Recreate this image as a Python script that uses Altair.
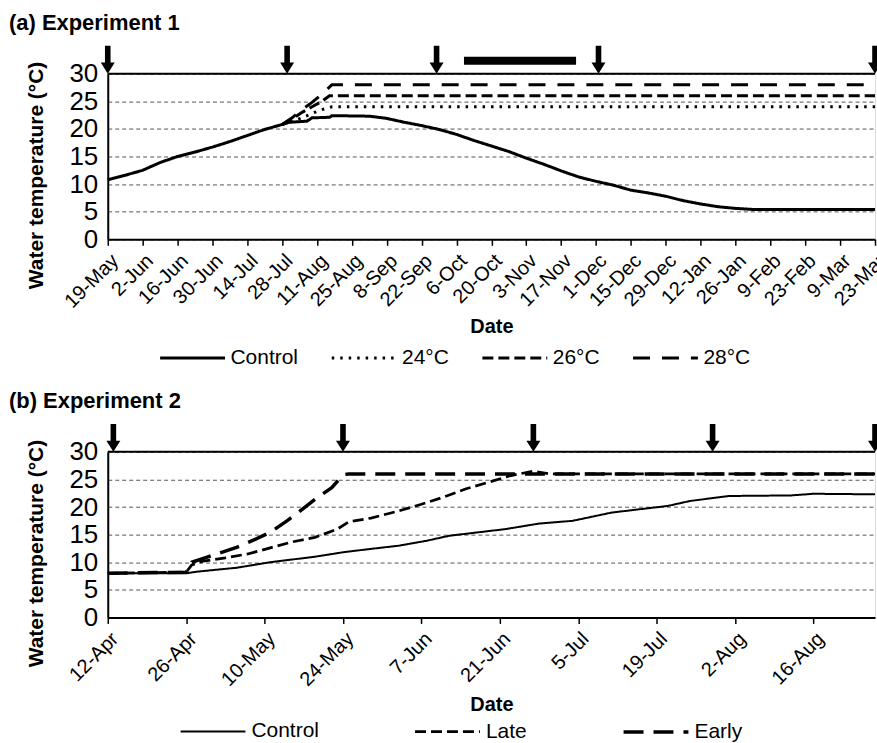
import altair as alt
import pandas as pd

# ---------------- Panel (a) Experiment 1 ----------------
a_ctrl_dates = ["2010-05-19", "2010-05-26", "2010-06-02", "2010-06-09", "2010-06-16", "2010-06-23",
                "2010-06-30", "2010-07-07", "2010-07-14", "2010-07-21", "2010-07-28", "2010-07-31",
                "2010-08-07", "2010-08-09", "2010-08-16", "2010-08-17", "2010-09-01", "2010-09-08",
                "2010-09-15", "2010-09-22", "2010-09-29", "2010-10-06", "2010-10-13", "2010-10-20",
                "2010-10-27", "2010-11-03", "2010-11-10", "2010-11-17", "2010-11-24", "2010-12-01",
                "2010-12-08", "2010-12-15", "2010-12-22", "2010-12-29", "2011-01-05", "2011-01-12",
                "2011-01-19", "2011-01-26", "2011-02-02", "2011-03-23"]
a_ctrl_vals = [10.8, 11.6, 12.5, 13.9, 15.0, 15.8,
               16.7, 17.7, 18.8, 19.9, 20.8, 21.2,
               21.4, 22.0, 22.1, 22.4, 22.3, 21.9,
               21.2, 20.6, 19.9, 19.0, 17.9, 16.9,
               15.9, 14.7, 13.6, 12.4, 11.3, 10.5,
               9.8, 8.9, 8.4, 7.8, 7.0, 6.4,
               5.9, 5.6, 5.4, 5.4]
a_24_dates = ["2010-07-28", "2010-08-01", "2010-08-05", "2010-08-09", "2010-08-13", "2010-08-17", "2011-03-23"]
a_24_vals = [20.8, 21.4, 22.0, 22.8, 23.5, 24.0, 24.0]
a_26_dates = ["2010-07-28", "2010-08-01", "2010-08-05", "2010-08-09", "2010-08-13", "2010-08-16", "2011-03-23"]
a_26_vals = [20.8, 21.8, 23.0, 24.0, 25.0, 26.0, 26.0]
a_28_dates = ["2010-07-28", "2010-08-01", "2010-08-05", "2010-08-09", "2010-08-13", "2010-08-17", "2011-03-23"]
a_28_vals = [20.8, 22.0, 23.5, 24.8, 26.3, 28.0, 28.0]
a_series = ["Control", "24°C", "26°C", "28°C"]
a_arrows = ["2010-05-19", "2010-07-30", "2010-09-28", "2010-12-02", "2011-03-23"]
a_bar_start = ["2010-10-09"]
a_bar_end = ["2010-11-23"]
a_ticks = ["2010-05-19", "2010-06-02", "2010-06-16", "2010-06-30", "2010-07-14", "2010-07-28",
           "2010-08-11", "2010-08-25", "2010-09-08", "2010-09-22", "2010-10-06", "2010-10-20",
           "2010-11-03", "2010-11-17", "2010-12-01", "2010-12-15", "2010-12-29", "2011-01-12",
           "2011-01-26", "2011-02-09", "2011-02-23", "2011-03-09", "2011-03-23"]
a_domain = ["2010-05-19", "2011-03-23"]

# ---------------- Panel (b) Experiment 2 ----------------
b_ctrl_dates = ["2011-04-12", "2011-04-26", "2011-04-28", "2011-05-01", "2011-05-05", "2011-05-08",
                "2011-05-11", "2011-05-15", "2011-05-19", "2011-05-24", "2011-05-28", "2011-06-03",
                "2011-06-08", "2011-06-12", "2011-06-17", "2011-06-22", "2011-06-28", "2011-07-04",
                "2011-07-11", "2011-07-21", "2011-07-25", "2011-08-01", "2011-08-12", "2011-08-16",
                "2011-08-27"]
b_ctrl_vals = [8.0, 8.0, 8.3, 8.6, 9.0, 9.5,
               10.0, 10.5, 11.0, 11.8, 12.3, 13.0,
               13.9, 14.8, 15.4, 16.0, 17.0, 17.5,
               19.0, 20.2, 21.1, 22.0, 22.1, 22.4,
               22.3]
b_late_dates = ["2011-04-12", "2011-04-26", "2011-04-27", "2011-04-29", "2011-05-03", "2011-05-07",
                "2011-05-11", "2011-05-15", "2011-05-19", "2011-05-23", "2011-05-25", "2011-05-29",
                "2011-06-03", "2011-06-07", "2011-06-11", "2011-06-15", "2011-06-19", "2011-06-23",
                "2011-06-27", "2011-06-30", "2011-08-27"]
b_late_vals = [8.0, 8.2, 9.5, 10.2, 10.8, 11.5,
               12.6, 13.7, 14.5, 16.0, 17.3, 18.0,
               19.3, 20.5, 21.8, 23.3, 24.5, 25.7,
               26.5, 26.0, 26.0]
b_early_dates = ["2011-04-12", "2011-04-26", "2011-04-27", "2011-04-30", "2011-05-05", "2011-05-08",
                 "2011-05-11", "2011-05-14", "2011-05-16", "2011-05-19", "2011-05-22", "2011-05-24",
                 "2011-05-25", "2011-08-27"]
b_early_vals = [8.0, 8.2, 10.0, 11.0, 12.7, 14.0,
                15.4, 17.5, 19.0, 21.4, 23.5, 25.8,
                26.0, 26.0]
b_series = ["Control", "Late", "Early"]
b_arrows = ["2011-04-13", "2011-05-24", "2011-06-27", "2011-07-29", "2011-08-27"]
b_ticks = ["2011-04-12", "2011-04-26", "2011-05-10", "2011-05-24", "2011-06-07", "2011-06-21",
           "2011-07-05", "2011-07-19", "2011-08-02", "2011-08-16"]
b_domain = ["2011-04-12", "2011-08-27"]

y_ticks = [0, 5, 10, 15, 20, 25, 30]
y_title = ["Water temperature (°C)"]

FONT = "Liberation Sans"
ARROW = "M-0.2,-1L0.2,-1L0.2,0.2L0.5,0.2L0,1L-0.5,0.2L-0.2,0.2Z"


def ts(s):
    return s + "T00:00:00"


def dt(s):
    return alt.DateTime(year=int(s[:4]), month=int(s[5:7]), date=int(s[8:10]))


def long_table(parts):
    rows = []
    for name, dates, vals in parts:
        for d, v in zip(dates, vals):
            rows.append({"series": name, "date": ts(d), "temp": v})
    return pd.DataFrame(rows)


def panel(title, df, order, dashes, widths, arrows, ticks, domain, legend_x, legend_y, col_pad, bar=None):
    xaxis = alt.Axis(values=[dt(t) for t in ticks], format="%-d-%b", labelAngle=-45,
                     labelFontSize=20, labelFont=FONT, labelColor="black", labelPadding=5,
                     labelOverlap=False,
                     tickSize=6, tickWidth=1.5, tickColor="black",
                     domainColor="black", domainWidth=2, grid=False,
                     title="Date", titleFont=FONT, titleFontSize=20, titleFontWeight="bold",
                     titleColor="black", titleY=87, titleBaseline="middle")
    yaxis = alt.Axis(values=y_ticks, labelFontSize=26, labelFont=FONT, labelColor="black",
                     labelPadding=10, ticks=False, domainColor="black", domainWidth=2,
                     labelOverlap=False,
                     grid=True, gridDash=[4, 3], gridColor="#555555", gridWidth=1,
                     title=None)
    xs = alt.Scale(domain=[dt(domain[0]), dt(domain[1])])
    ys = alt.Scale(domain=[0, 30])
    x = alt.X("date:T", scale=xs, axis=xaxis, title="Date")
    y = alt.Y("temp:Q", scale=ys, axis=yaxis, title=None)
    leg = alt.Legend(title=None, orient="none", legendX=legend_x, legendY=legend_y,
                     direction="horizontal", columns=len(order), columnPadding=col_pad,
                     symbolType="stroke", symbolSize=4225, symbolStrokeColor="black",
                     labelFont=FONT, labelFontSize=21, labelColor="black", labelOffset=4,
                     padding=0)
    lines = alt.Chart(df).mark_line(color="black", strokeCap="butt").encode(
        x=x, y=y,
        strokeDash=alt.StrokeDash("series:N", scale=alt.Scale(domain=order, range=dashes), legend=leg),
        strokeWidth=alt.StrokeWidth("series:N", scale=alt.Scale(domain=order, range=widths), legend=leg),
    )
    top = alt.Chart(pd.DataFrame({"k": [0]})).mark_rule(color="black", strokeWidth=2).encode(
        y=alt.Y(datum=30, scale=ys, axis=yaxis, title=None))
    arr = alt.Chart(pd.DataFrame({"date": [ts(a) for a in arrows]})).mark_point(
        shape=ARROW, filled=True, color="black", opacity=1, size=784, strokeWidth=0).encode(
        x=alt.X("date:T", scale=xs, axis=xaxis, title="Date"), y=alt.value(-14))
    ytitle = alt.Chart(pd.DataFrame({"t": y_title})).mark_text(
        angle=270, align="center", baseline="middle", font=FONT, fontSize=21,
        fontWeight="bold", color="black").encode(
        text="t:N", x=alt.value(-71), y=alt.value(102))
    layers = [lines, top, arr, ytitle]
    if bar is not None:
        bdf = pd.DataFrame({"start": [ts(s) for s in bar[0]], "end": [ts(e) for e in bar[1]]})
        layers.append(alt.Chart(bdf).mark_rule(color="black", strokeWidth=8, strokeCap="butt").encode(
            x=alt.X("start:T", scale=xs, axis=xaxis, title="Date"), x2="end:T", y=alt.value(-13)))
    return alt.layer(*layers).properties(
        width=769, height=166,
        title=alt.TitleParams(title, anchor="start", frame="group", dx=-99, fontSize=22,
                              fontWeight="bold", font=FONT, color="black", offset=11))


df_a = long_table([("Control", a_ctrl_dates, a_ctrl_vals), ("24°C", a_24_dates, a_24_vals),
                   ("26°C", a_26_dates, a_26_vals), ("28°C", a_28_dates, a_28_vals)])
df_b = long_table([("Control", b_ctrl_dates, b_ctrl_vals), ("Late", b_late_dates, b_late_vals),
                   ("Early", b_early_dates, b_early_vals)])

pa = panel("(a) Experiment 1", df_a, a_series,
           [[1, 0], [2.5, 6], [11, 5], [17, 12]], [3, 3, 3.5, 4],
           a_arrows, a_ticks, a_domain, 51, 251, 27, bar=(a_bar_start, a_bar_end))
pb = panel("(b) Experiment 2", df_b, b_series,
           [[1, 0], [11, 5], [20, 10]], [2, 3.5, 4],
           b_arrows, b_ticks, b_domain, 71, 246, 90)

chart = alt.vconcat(pa, pb, spacing=20).resolve_scale(
    strokeDash="independent", strokeWidth="independent", x="independent", y="independent"
).resolve_legend(strokeDash="independent", strokeWidth="independent").properties(
    padding={"left": 8, "top": 10, "right": -13, "bottom": 0}
).configure_view(stroke="#999999", strokeWidth=1).configure(font=FONT)

chart.save("out.html", embed_options={"renderer": "svg", "actions": False})
